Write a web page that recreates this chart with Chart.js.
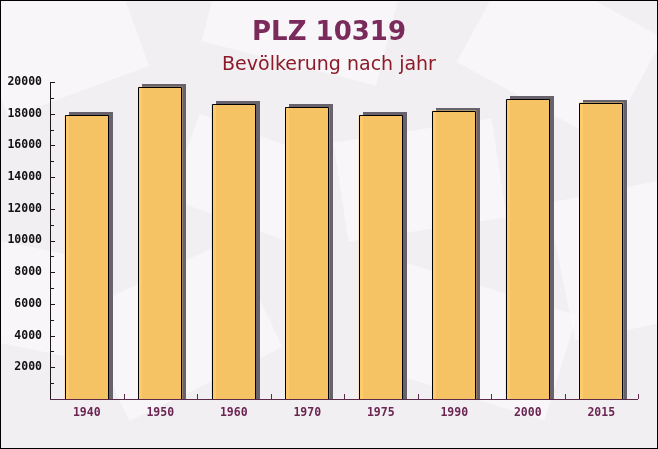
<!DOCTYPE html>
<html>
<head>
<meta charset="utf-8">
<script src="https://cdn.jsdelivr.net/npm/chart.js@4"></script>
<style>
  html, body { margin: 0; padding: 0; background: #fff; }
  #wrap { width: 658px; height: 449px; }
</style>
</head>
<body>
<div id="wrap"><canvas id="c" width="658" height="449"></canvas></div>
<script>
const categories = ['1940', '1950', '1960', '1970', '1975', '1990', '2000', '2015'];
const population = [17900, 19700, 18600, 18400, 17900, 18200, 18900, 18700];
const yTickValues = [2000, 4000, 6000, 8000, 10000, 12000, 14000, 16000, 18000, 20000];
const titleText = 'PLZ 10319';
const subtitleText = 'Bevölkerung nach jahr';

function barBox(bar) {
  const p = bar.getProps(['x', 'y', 'base', 'width'], true);
  const l = Math.round(p.x - p.width / 2);
  const r = Math.round(p.x + p.width / 2);
  const t = Math.round(p.y);
  const b = Math.round(p.base);
  return { l, r, t, b };
}

const bgPlugin = {
  id: 'bg',
  beforeDraw(chart) {
    const ctx = chart.ctx;
    const W = chart.width, H = chart.height;
    ctx.save();
    ctx.fillStyle = '#f2eff2';
    ctx.fillRect(0, 0, W, H);
    const shapes = [
      [60, 40, 150, 110, -0.35], [300, 20, 180, 90, 0.25], [560, 50, 170, 120, 0.5],
      [180, 330, 170, 120, -0.45], [470, 340, 190, 110, 0.3], [40, 300, 120, 100, 0.2],
      [420, 180, 160, 100, -0.15], [620, 260, 120, 140, -0.2], [250, 180, 140, 90, 0.35]
    ];
    ctx.fillStyle = 'rgba(255,255,255,0.45)';
    shapes.forEach(([x, y, w, h, a]) => {
      ctx.save();
      ctx.translate(x, y);
      ctx.rotate(a);
      ctx.fillRect(-w / 2, -h / 2, w, h);
      ctx.restore();
    });
    ctx.restore();
  },
  beforeDatasetsDraw(chart) {
    const ctx = chart.ctx;
    const meta = chart.getDatasetMeta(0);
    ctx.save();
    ctx.fillStyle = 'rgb(104,98,108)';
    meta.data.forEach(bar => {
      const b = barBox(bar);
      ctx.fillRect(b.l + 4, b.t - 3, b.r - b.l, b.b - b.t + 3);
    });
    ctx.restore();
  },
  afterDatasetsDraw(chart) {
    const ctx = chart.ctx;
    const meta = chart.getDatasetMeta(0);
    ctx.save();
    ctx.strokeStyle = '#000';
    ctx.lineWidth = 1;
    meta.data.forEach(bar => {
      const b = barBox(bar);
      ctx.beginPath();
      ctx.moveTo(b.l + 0.5, b.b);
      ctx.lineTo(b.l + 0.5, b.t + 0.5);
      ctx.lineTo(b.r - 0.5, b.t + 0.5);
      ctx.lineTo(b.r - 0.5, b.b);
      ctx.stroke();
    });
    ctx.restore();
  },
  afterDraw(chart) {
    const ctx = chart.ctx;
    const area = chart.chartArea;
    const x = chart.scales.x, y = chart.scales.y;
    const left = Math.round(area.left), bottom = Math.round(area.bottom);
    ctx.save();
    ctx.strokeStyle = '#1e181c';
    ctx.lineWidth = 1;
    ctx.beginPath();
    ctx.moveTo(left + 0.5, Math.round(y.getPixelForValue(20000)));
    ctx.lineTo(left + 0.5, bottom);
    for (let v = 1000; v <= 20000; v += 1000) {
      const py = Math.round(y.getPixelForValue(v)) + 0.5;
      const len = (v % 2000 === 0) ? 4 : 3;
      ctx.moveTo(left, py);
      ctx.lineTo(left + 1 + len, py);
    }
    ctx.stroke();
    ctx.strokeStyle = '#5c2a48';
    ctx.beginPath();
    ctx.moveTo(left, bottom + 0.5);
    ctx.lineTo(Math.round(area.right), bottom + 0.5);
    const step = x.getPixelForValue(1) - x.getPixelForValue(0);
    for (let i = 0; i < categories.length; i++) {
      const px = Math.round(x.getPixelForValue(i) + step / 2) + 0.5;
      ctx.moveTo(px, bottom);
      ctx.lineTo(px, bottom - 5);
    }
    ctx.stroke();
    ctx.textAlign = 'center';
    ctx.textBaseline = 'alphabetic';
    ctx.fillStyle = '#7a2b5b';
    ctx.font = 'bold 26px "DejaVu Sans"';
    ctx.fillText(titleText, chart.width / 2, 40);
    ctx.fillStyle = '#8c1a28';
    ctx.font = '19px "DejaVu Sans"';
    ctx.fillText(subtitleText, chart.width / 2, 70);
    ctx.strokeStyle = '#000';
    ctx.strokeRect(0.5, 0.5, chart.width - 1, chart.height - 1);
    ctx.restore();
  }
};

new Chart(document.getElementById('c'), {
  type: 'bar',
  data: {
    labels: categories,
    datasets: [{
      data: population,
      backgroundColor: 'rgba(254,200,100,0.95)',
      borderWidth: 0,
      categoryPercentage: 1,
      barPercentage: 0.6
    }]
  },
  options: {
    responsive: false,
    devicePixelRatio: 1,
    animation: false,
    layout: { padding: { top: 82, right: 20, bottom: 0, left: 0 } },
    plugins: { legend: { display: false }, tooltip: { enabled: false }, title: { display: false } },
    scales: {
      x: {
        offset: true,
        grid: { display: false, drawTicks: false },
        border: { display: false },
        ticks: {
          color: '#6b2552',
          font: { family: '"DejaVu Sans Mono"', size: 11.5, weight: 'bold' },
          padding: 7,
          maxRotation: 0
        },
        afterFit(s) { s.height = 50; }
      },
      y: {
        min: 0,
        max: 20000,
        grid: { display: false, drawTicks: false },
        border: { display: false },
        afterBuildTicks(s) { s.ticks = yTickValues.map(v => ({ value: v })); },
        ticks: {
          color: '#111',
          font: { family: '"DejaVu Sans Mono"', size: 11.5, weight: 'bold' },
          padding: 8,
          callback: v => String(v)
        },
        afterFit(s) { s.width = 50; }
      }
    }
  },
  plugins: [bgPlugin]
});
</script>
</body>
</html>
